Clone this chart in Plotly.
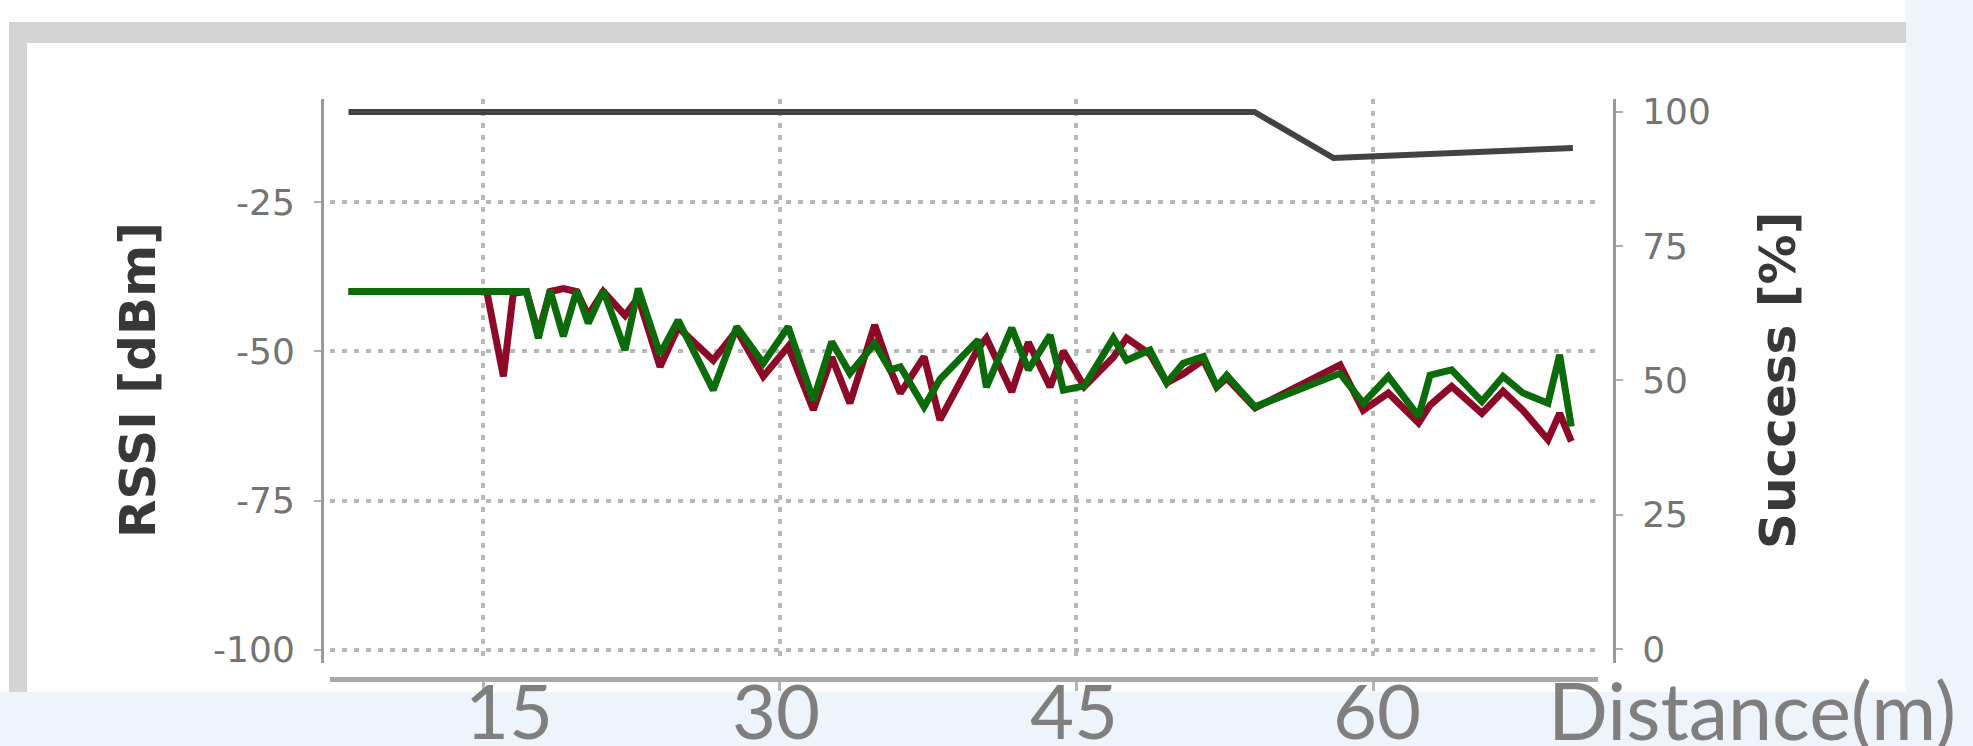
import plotly.graph_objects as go

W, H = 1973, 746

# ---------------- data ----------------
distance = [8.2, 15.19, 16.03, 16.53, 17.2, 17.8, 18.39, 19.06, 19.74, 20.32, 21.08,
            22.18, 22.85, 23.95, 24.87, 26.64, 27.83, 29.17, 30.43, 31.7, 32.63,
            33.55, 34.8, 35.58, 36.1, 37.3, 38.1, 40.04, 40.45, 41.73, 42.57,
            43.67, 44.34, 45.4, 46.87, 47.54, 48.72, 49.57, 50.4, 51.42, 52.09,
            52.6, 54.03, 58.33, 59.5, 60.77, 62.3, 62.88, 63.97, 65.5, 66.57,
            67.58, 68.84, 69.43, 70.02]
rssi_green = [-40, -40, -40, -40, -40, -47.8, -39.8, -47.5, -39.8, -45.3, -39.8,
              -49.8, -39.5, -50.5, -44.8, -56.5, -45.9, -52.0, -45.9, -58.2, -48.4,
              -53.7, -48.7, -53.1, -52.6, -59.3, -54.7, -48.1, -56.0, -46.1, -53.1,
              -47.3, -56.5, -55.8, -47.8, -51.5, -49.8, -55.3, -52.0, -50.9, -55.9,
              -54.0, -59.3, -53.7, -58.7, -54.2, -60.9, -54.0, -53.1, -58.4, -54.2,
              -57.0, -58.7, -50.6, -62.6]
rssi_red = [-40, -40, -54.2, -40.3, -40, -47.0, -40, -39.5, -40, -44.0, -40,
            -44.0, -41.0, -52.6, -46.0, -51.5, -46.5, -54.2, -49.2, -59.8, -51.0,
            -58.7, -45.6, -53.0, -57.0, -50.9, -61.5, -49.5, -47.8, -56.8, -48.5,
            -56.0, -50.0, -55.9, -51.0, -47.8, -50.5, -55.3, -53.8, -51.5, -56.0,
            -54.5, -59.5, -52.3, -59.9, -57.0, -62.0, -59.0, -55.9, -60.4, -56.7,
            -59.9, -64.8, -60.4, -65.1]

success_distance = [8.2, 54.0, 58.0, 70.1]
success_pct = [100, 100, 91.4, 93.3]

rssi_ticks = [-100, -75, -50, -25]
rssi_tick_labels = ["-100", "-75", "-50", "-25"]
success_ticks = [0, 25, 50, 75, 100]
success_tick_labels = ["0", "25", "50", "75", "100"]
x_ticks = [15, 30, 45, 60]
x_tick_labels = ["15", "30", "45", "60"]
x_label_shift = [26, -4, -2, 4]

rssi_title = "RSSI [dBm]"
success_title = "Success [%]"
x_title = "Distance(m)"

# ---------------- helpers: pixel -> paper ----------------
def px(p):
    return p / W

def py(p):
    return 1 - p / H

SLIDE_BG = "#edf4fb"
GRID = "#b9b9b9"
AXIS = "#9a9a9a"
TICKFONT = dict(family="DejaVu Sans", size=36, color="#747474")

fig = go.Figure()

fig.add_trace(go.Scatter(x=success_distance, y=success_pct, yaxis="y2", mode="lines",
                         line=dict(color="#434343", width=6), showlegend=False))
fig.add_trace(go.Scatter(x=distance, y=rssi_red, mode="lines",
                         line=dict(color="#8c0a28", width=7), showlegend=False))
fig.add_trace(go.Scatter(x=distance, y=rssi_green, mode="lines",
                         line=dict(color="#0b6b0b", width=7), showlegend=False))

fig.update_layout(
    width=W, height=H,
    margin=dict(l=0, r=0, t=0, b=0, pad=0, autoexpand=False),
    paper_bgcolor="white",
    plot_bgcolor="rgba(0,0,0,0)",
    showlegend=False,
    xaxis=dict(
        domain=[px(330), px(1598)], range=[7.265, 71.37],
        anchor="free", position=py(679), automargin=False,
        showline=True, linecolor="#a9a9a9", linewidth=5,
        ticks="outside", ticklen=9, tickwidth=3, tickcolor="#b5b5b5",
        tickvals=x_ticks, showticklabels=False,
        showgrid=True, gridcolor=GRID, gridwidth=3.5, griddash="5px,7px",
        zeroline=False,
    ),
    yaxis=dict(
        domain=[py(663), py(99)], range=[-102.2, -7.76],
        anchor="free", position=px(322), automargin=False,
        showline=True, linecolor=AXIS, linewidth=3,
        ticks="outside", ticklen=7, tickwidth=2, tickcolor="#b0b0b0",
        tickvals=rssi_ticks, ticktext=rssi_tick_labels,
        tickfont=TICKFONT, ticklabelstandoff=12,
        showgrid=True, gridcolor=GRID, gridwidth=3.5, griddash="5px,7px",
        zeroline=False,
    ),
    yaxis2=dict(
        overlaying="y", side="right", range=[-2.6, 102.4],
        anchor="free", position=px(1614), automargin=False,
        showline=True, linecolor=AXIS, linewidth=3,
        ticks="outside", ticklen=7, tickwidth=2, tickcolor="#b0b0b0",
        tickvals=success_ticks, ticktext=success_tick_labels,
        tickfont=TICKFONT, ticklabelstandoff=12,
        showgrid=False, zeroline=False,
    ),
)

# slide background (right strip and bottom band)
fig.add_shape(type="rect", xref="paper", yref="paper", layer="below",
              x0=px(1906), x1=1, y0=0, y1=1, fillcolor=SLIDE_BG, line_width=0)
fig.add_shape(type="rect", xref="paper", yref="paper", layer="below",
              x0=0, x1=1, y0=0, y1=py(692), fillcolor=SLIDE_BG, line_width=0)
# screenshot frame grey border bands
fig.add_shape(type="rect", xref="paper", yref="paper", layer="below",
              x0=px(9), x1=px(1906), y0=py(43), y1=py(22), fillcolor="#d4d4d4", line_width=0)
fig.add_shape(type="rect", xref="paper", yref="paper", layer="below",
              x0=px(9), x1=px(27), y0=py(692), y1=py(22), fillcolor="#d4d4d4", line_width=0)

# axis titles
fig.add_annotation(text=rssi_title, xref="paper", yref="paper", x=px(138), y=py(380),
                   textangle=-90, showarrow=False, xanchor="center", yanchor="middle",
                   font=dict(family="DejaVu Sans", size=50, color="#383838", weight="bold"))
fig.add_annotation(text=success_title, xref="paper", yref="paper", x=px(1778), y=py(380),
                   textangle=-90, showarrow=False, xanchor="center", yanchor="middle",
                   font=dict(family="DejaVu Sans", size=50, color="#383838", weight="bold"))

# big slide-style x labels
BIG = dict(family="Lato", size=76, color="#7f7f7f")
for v, t, s in zip(x_ticks, x_tick_labels, x_label_shift):
    fig.add_annotation(text=t, xref="x", yref="paper", x=v, y=py(709), xshift=s,
                       showarrow=False, xanchor="center", yanchor="middle", font=BIG)
fig.add_annotation(text=x_title, xref="paper", yref="paper", x=px(1752), y=py(709),
                   showarrow=False, xanchor="center", yanchor="middle",
                   font=dict(family="Lato", size=79, color="#7f7f7f"))

fig.write_html("out.html", config={"displayModeBar": False},
               post_script="document.body.style.margin='0';document.body.style.overflow='hidden';")
